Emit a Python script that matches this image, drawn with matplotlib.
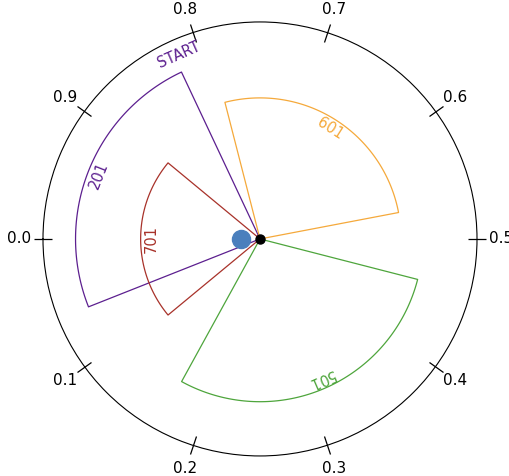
import numpy as np
import matplotlib
matplotlib.use('Agg')
import matplotlib.pyplot as plt

# wedge data (fraction of the cycle, radius)
labels = ['201', '701', '601', '501']
starts = [0.82, 0.89, 0.53, 0.17]
ends = [1.06, 1.11, 0.79, 0.46]
radii = [0.85, 0.55, 0.65, 0.75]
colors = ['#5c1f8f', '#a8322a', '#f5a93b', '#4ea53c']

tick_vals = [0.0, 0.1, 0.2, 0.3, 0.4, 0.5, 0.6, 0.7, 0.8, 0.9]
tick_labels = ['0.0', '0.1', '0.2', '0.3', '0.4', '0.5', '0.6', '0.7', '0.8', '0.9']

start_label = 'START'
start_pos = 0.816
start_r = 0.925

dot_pos = 0.0
dot_r = 0.088

fig = plt.figure(figsize=(5.1, 4.76), dpi=100)
ax = fig.add_axes([0.0843, 0.042, 0.851, 0.912], projection='polar')
ax.set_theta_offset(np.pi)
ax.set_theta_direction(1)

TWO_PI = 2 * np.pi

for lab, s, e, r, c in zip(labels, starts, ends, radii, colors):
    th = np.linspace(s, e, 100) * TWO_PI
    thetas = np.concatenate([[s * TWO_PI], th, [e * TWO_PI]])
    rs = np.concatenate([[0], np.full(th.size, r), [0]])
    ax.plot(thetas, rs, color=c, lw=0.9)
    mid = (s + e) / 2
    rot = (mid * 360 + 180) % 360 - 90
    ax.text(mid * TWO_PI, r - 0.05, lab, color=c, fontsize=10.5,
            rotation=rot, rotation_mode='anchor', ha='center', va='center')

rot = (start_pos * 360 + 180) % 360 - 90
ax.text(start_pos * TWO_PI, start_r, start_label, color=colors[0], fontsize=10.5,
        rotation=rot, rotation_mode='anchor', ha='center', va='center')

ax.plot([dot_pos * TWO_PI], [dot_r], 'o', color='#4a7fbd', ms=13, zorder=4)
ax.plot([0], [0], 'o', color='black', ms=6.5, zorder=5)

ax.set_ylim(0, 1)
ax.set_yticks([])
ax.set_xticks(np.array(tick_vals) * TWO_PI)
ax.set_xticklabels(tick_labels, fontsize=11)
ax.grid(False)
ax.tick_params(axis='x', bottom=False, top=True, direction='inout',
               length=6.5, width=0.9, pad=7.2)

plt.savefig('out.png', dpi=100)
